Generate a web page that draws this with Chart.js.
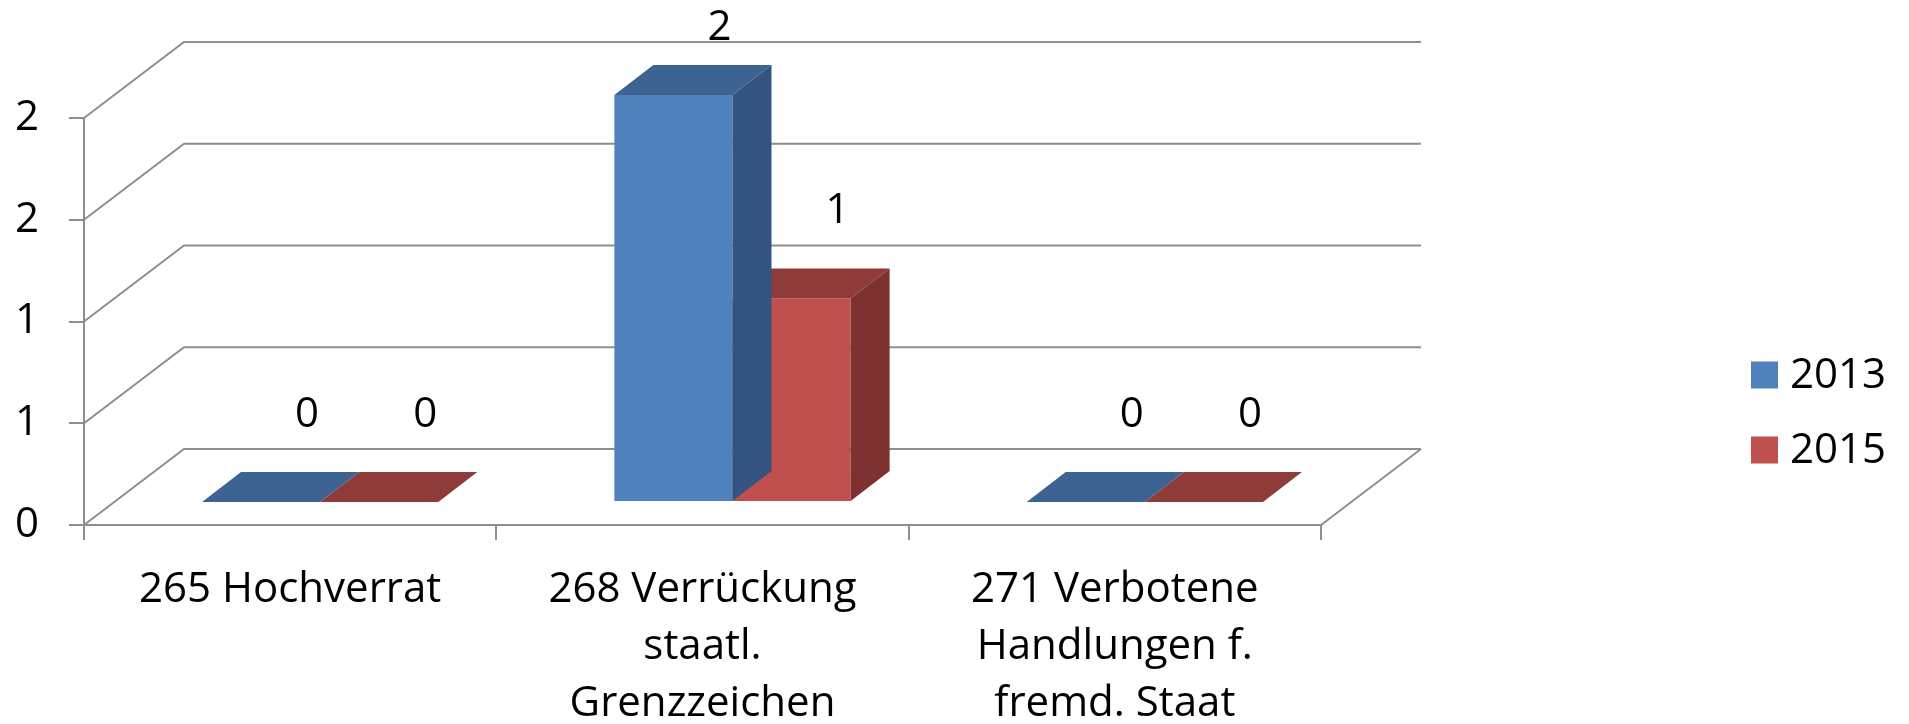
<!DOCTYPE html>
<html>
<head>
<meta charset="utf-8">
<script src="https://cdn.jsdelivr.net/npm/chart.js@4.4.1/dist/chart.umd.min.js"></script>
<style>
  html, body { margin: 0; padding: 0; background: #ffffff; }
  #wrap { width: 1909px; height: 724px; }
</style>
</head>
<body>
<div id="wrap"><canvas id="c" width="1909" height="724"></canvas></div>
<script>
// ---- data ----
const categories = [
  ["265 Hochverrat"],
  ["268 Verrückung", "staatl.", "Grenzzeichen"],
  ["271 Verbotene", "Handlungen f.", "fremd. Staat"]
];
const seriesNames = ["2013", "2015"];
const values2013 = [0, 2, 0];
const values2015 = [0, 1, 0];
const yTickValues = [0, 0.5, 1, 1.5, 2];
const yTickLabels = ["0", "1", "1", "2", "2"];

// ---- styles ----
const FONT = "'Open Sans', 'Liberation Sans', sans-serif";
const FONT_SIZE = 42;
const GRID = "#8e8e8e";
const frontColors = ["#4F81BD", "#C0504D"];
const topColors = ["#3C6391", "#8F3B3A"];
const sideColors = ["#335480", "#7D3130"];

// 3D projection: back wall offset and bar depth placement
const WALL_DX = 100, WALL_DY = -76;
const BAR_FRONT_DX = 30, BAR_FRONT_DY = -23;
const BAR_DEPTH_DX = 39, BAR_DEPTH_DY = -30;

const threeD = {
  id: "threeD",
  beforeDatasetsDraw(chart) {
    const ctx = chart.ctx;
    const y = chart.scales.y;
    const L = chart.chartArea.left, R = chart.chartArea.right;
    ctx.save();
    ctx.strokeStyle = GRID;
    ctx.lineWidth = 2;
    yTickValues.forEach(v => {
      const py = y.getPixelForValue(v);
      ctx.beginPath();
      ctx.moveTo(L, py);
      ctx.lineTo(L + WALL_DX, py + WALL_DY);
      ctx.lineTo(R + WALL_DX, py + WALL_DY);
      ctx.stroke();
    });
    // floor right edge
    const p0 = y.getPixelForValue(0);
    ctx.beginPath();
    ctx.moveTo(R, p0);
    ctx.lineTo(R + WALL_DX, p0 + WALL_DY);
    ctx.stroke();
    ctx.restore();
    // translate bars to their depth plane
    ctx.save();
    ctx.translate(BAR_FRONT_DX, BAR_FRONT_DY);
  },
  afterDatasetDraw(chart, args) {
    const ctx = chart.ctx;
    const i = args.index;
    const meta = chart.getDatasetMeta(i);
    meta.data.forEach(bar => {
      const p = bar.getProps(["x", "y", "base", "width"], true);
      const x0 = p.x - p.width / 2, x1 = p.x + p.width / 2;
      const top = Math.min(p.y, p.base), base = Math.max(p.y, p.base);
      // top face
      ctx.fillStyle = topColors[i];
      ctx.beginPath();
      ctx.moveTo(x0, top);
      ctx.lineTo(x1, top);
      ctx.lineTo(x1 + BAR_DEPTH_DX, top + BAR_DEPTH_DY);
      ctx.lineTo(x0 + BAR_DEPTH_DX, top + BAR_DEPTH_DY);
      ctx.closePath();
      ctx.fill();
      // side face
      if (base - top > 0.5) {
        ctx.fillStyle = sideColors[i];
        ctx.beginPath();
        ctx.moveTo(x1, top);
        ctx.lineTo(x1 + BAR_DEPTH_DX, top + BAR_DEPTH_DY);
        ctx.lineTo(x1 + BAR_DEPTH_DX, base + BAR_DEPTH_DY);
        ctx.lineTo(x1, base);
        ctx.closePath();
        ctx.fill();
      }
    });
  },
  afterDatasetsDraw(chart) {
    const ctx = chart.ctx;
    ctx.restore();
    // value labels
    ctx.save();
    ctx.font = FONT_SIZE + "px " + FONT;
    ctx.fillStyle = "#000";
    ctx.textAlign = "center";
    ctx.textBaseline = "middle";
    chart.data.datasets.forEach((ds, i) => {
      const meta = chart.getDatasetMeta(i);
      meta.data.forEach((bar, j) => {
        const p = bar.getProps(["x", "y"], true);
        const lx = p.x + 76;
        const ly = Math.max(28, p.y - 110);
        ctx.fillText(String(ds.data[j]), lx, ly);
      });
    });
    // legend
    const legendX = 1751, legendY = [375, 450], box = 27;
    chart.data.datasets.forEach((ds, i) => {
      ctx.fillStyle = frontColors[i];
      ctx.fillRect(legendX, legendY[i] - box / 2, box, box);
      ctx.fillStyle = "#000";
      ctx.textAlign = "left";
      ctx.fillText(ds.label, legendX + 39, legendY[i] + 1);
    });
    ctx.restore();
  }
};

new Chart(document.getElementById("c"), {
  type: "bar",
  data: {
    labels: categories,
    datasets: [
      { label: seriesNames[0], data: values2013, backgroundColor: frontColors[0], borderWidth: 0, clip: false },
      { label: seriesNames[1], data: values2015, backgroundColor: frontColors[1], borderWidth: 0, clip: false }
    ]
  },
  options: {
    responsive: false,
    devicePixelRatio: 1,
    animation: false,
    events: [],
    layout: { padding: { left: 0, top: 118, right: 1909 - 1321, bottom: 0 } },
    datasets: { bar: { categoryPercentage: 0.573, barPercentage: 1.0 } },
    plugins: { legend: { display: false }, tooltip: { enabled: false } },
    scales: {
      x: {
        grid: { display: true, drawOnChartArea: false, drawTicks: true, tickLength: 15, color: GRID, lineWidth: 2, offset: true },
        border: { display: true, color: GRID, width: 2 },
        ticks: { color: "#000", font: { family: FONT, size: FONT_SIZE, lineHeight: 57 / FONT_SIZE }, padding: 22, maxRotation: 0, autoSkip: false },
        afterFit(s) { s.height = 724 - 525; }
      },
      y: {
        min: 0, max: 2,
        afterBuildTicks(s) { s.ticks = yTickValues.map(v => ({ value: v })); },
        grid: { display: true, drawOnChartArea: false, drawTicks: true, tickLength: 15, color: GRID, lineWidth: 2 },
        border: { display: true, color: GRID, width: 2 },
        ticks: {
          color: "#000",
          font: { family: FONT, size: FONT_SIZE },
          padding: 30,
          callback: (v, idx) => yTickLabels[idx]
        },
        afterFit(s) { s.width = 84; }
      }
    }
  },
  plugins: [threeD]
});
</script>
</body>
</html>
